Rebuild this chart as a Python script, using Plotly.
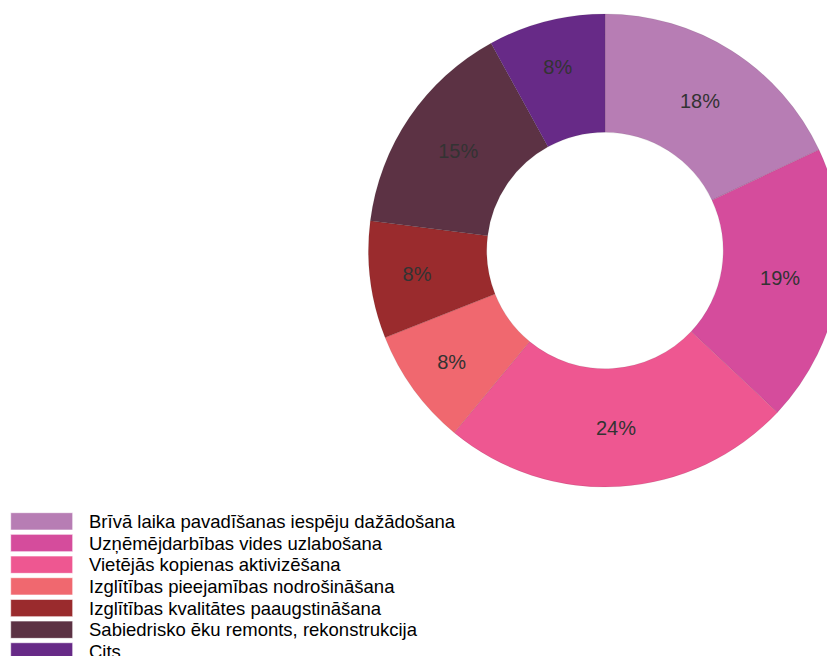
import plotly.graph_objects as go

categories = [
    "Brīvā laika pavadīšanas iespēju dažādošana",
    "Uzņēmējdarbības vides uzlabošana",
    "Vietējās kopienas aktivizēšana",
    "Izglītības pieejamības nodrošināšana",
    "Izglītības kvalitātes paaugstināšana",
    "Sabiedrisko ēku remonts, rekonstrukcija",
    "Cits",
]
values = [18, 19, 24, 8, 8, 15, 8]
colors = ["#B77DB4", "#D54C9C", "#EE5791", "#F0686F", "#9A2B2D", "#5C3244", "#672A87"]

W, H = 835, 656

fig = go.Figure()
fig.add_trace(go.Pie(
    labels=categories,
    values=values,
    hole=0.5,
    sort=False,
    direction="clockwise",
    rotation=0,
    marker=dict(colors=colors, line=dict(color="rgba(0,0,0,0.08)", width=1)),
    textinfo="percent",
    texttemplate="%{percent:.0%}",
    textposition="inside",
    insidetextorientation="horizontal",
    textfont=dict(family="Liberation Sans, Arial, sans-serif", size=20, color="#333333"),
    showlegend=False,
    domain=dict(x=[0.4317, 0.9982], y=[0.2698, 0.9909]),
))

# Manual legend with wide swatches
shapes = []
annotations = []
top0 = 504.7
step = 21.67
sw_h = 17.3
for i, (name, col) in enumerate(zip(categories, colors)):
    top = top0 + i * step
    shapes.append(dict(
        type="rect", xref="paper", yref="paper",
        x0=2.7 / W, x1=64.7 / W,
        y0=1 - (top + sw_h) / H, y1=1 - top / H,
        fillcolor=col, line=dict(color="rgba(255,255,255,0.6)", width=1),
    ))
    annotations.append(dict(
        xref="paper", yref="paper", x=79 / W, y=1 - (top + sw_h / 2) / H,
        xanchor="left", yanchor="middle", showarrow=False, text=name,
        font=dict(family="Liberation Sans, Arial, sans-serif", size=18.5, color="#000000"),
    ))

fig.update_layout(
    width=W, height=H,
    margin=dict(l=0, r=0, t=0, b=0),
    paper_bgcolor="white", plot_bgcolor="white",
    shapes=shapes, annotations=annotations,
)

fig.write_html("out.html")
